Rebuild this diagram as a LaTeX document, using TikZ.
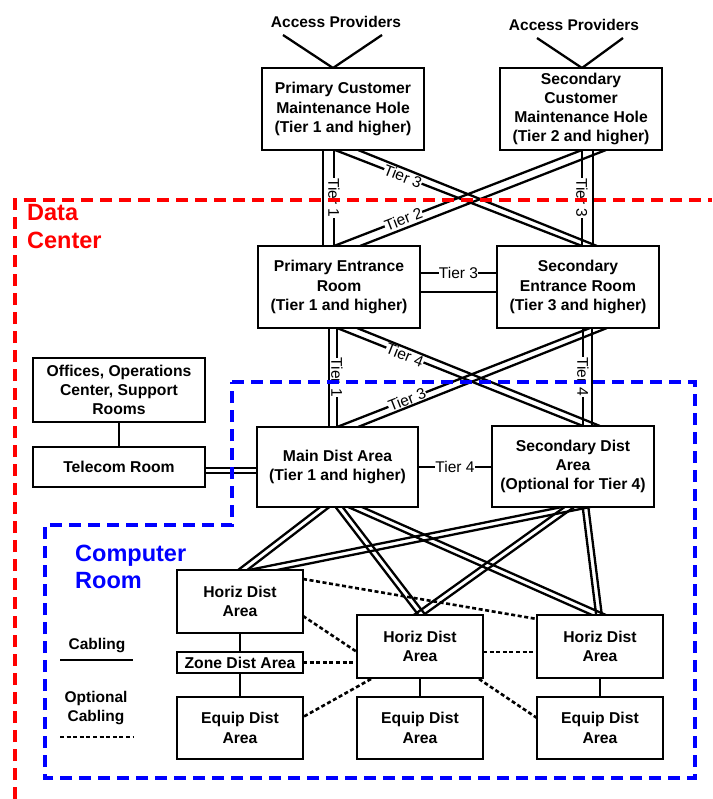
\documentclass[tikz,border=0pt]{standalone}
\usepackage{fontspec}
\setmainfont{Liberation Sans}
\usetikzlibrary{calc}
\pgfdeclarelayer{bg}
\pgfsetlayers{bg,main}
\definecolor{dcred}{RGB}{255,0,0}
\definecolor{crblue}{RGB}{0,0,255}
\newcommand\dcable[2]{%
  \draw[cable] ($(#1)!2.8pt!90:(#2)$) -- ($(#2)!2.8pt!-90:(#1)$);
  \draw[cable] ($(#1)!2.8pt!-90:(#2)$) -- ($(#2)!2.8pt!90:(#1)$);}
\begin{document}
\begin{tikzpicture}[x=1pt,y=-1pt,
  box/.style={draw, line width=2.3pt, fill=white, align=center, inner sep=0pt, outer sep=0pt,
    font=\fontsize{15.7}{19.3}\selectfont\bfseries},
  lbl/.style={inner sep=0pt, align=center, font=\fontsize{15.5}{18.5}\selectfont\bfseries},
  big/.style={inner sep=0pt, align=left, anchor=west, font=\fontsize{23.5}{27.5}\selectfont\bfseries},
  cable/.style={line width=2.3pt},
  opt/.style={line width=2.6pt, dash pattern=on 4pt off 2.6pt},
  tier/.style={fill=white, inner sep=0.4pt, font=\fontsize{15.5}{18}\selectfont},
  region/.style={line width=3.5pt, dash pattern=on 12pt off 7pt}]
\useasboundingbox (0,0) rectangle (712,799);

% boxes
\node[box, minimum width=162pt, minimum height=82pt] (pcmh) at (343,109) {Primary Customer\\Maintenance Hole\\(Tier 1 and higher)};
\node[box, minimum width=162pt, minimum height=82pt] (scmh) at (581,109) {Secondary\\Customer\\Maintenance Hole\\(Tier 2 and higher)};
\node[box, minimum width=162pt, minimum height=82pt] (per) at (339,287) {Primary Entrance\\Room\\(Tier 1 and higher)};
\node[box, minimum width=162pt, minimum height=82pt] (ser) at (578,287) {Secondary\\Entrance Room\\(Tier 3 and higher)};
\node[box, minimum width=161pt, minimum height=80pt] (mda) at (337.5,467) {Main Dist Area\\(Tier 1 and higher)};
\node[box, minimum width=162pt, minimum height=81pt] (sda) at (573,466.5) {Secondary Dist\\Area\\(Optional for Tier 4)};
\node[box, minimum width=172pt, minimum height=64pt] (off) at (119,390) {Offices, Operations\\Center, Support\\Rooms};
\node[box, minimum width=172pt, minimum height=40pt] (tel) at (119,467) {Telecom Room};
\node[box, minimum width=126pt, minimum height=63pt] (hdl) at (240,601.5) {Horiz Dist\\Area};
\node[box, minimum width=126pt, minimum height=21pt] (zda) at (240,662.5) {Zone Dist Area};
\node[box, minimum width=126pt, minimum height=62pt] (edl) at (240,728) {Equip Dist\\Area};
\node[box, minimum width=126pt, minimum height=63pt] (hdm) at (420,646.5) {Horiz Dist\\Area};
\node[box, minimum width=126pt, minimum height=62pt] (edm) at (420,728) {Equip Dist\\Area};
\node[box, minimum width=126pt, minimum height=63pt] (hdr) at (600,646.5) {Horiz Dist\\Area};
\node[box, minimum width=126pt, minimum height=62pt] (edr) at (600,728) {Equip Dist\\Area};

% labels
\node[lbl] (ap1) at (336,22) {Access Providers};
\node[lbl] (ap2) at (574,25) {Access Providers};
\node[big, text=dcred] (dc) at (27,226.5) {Data\\Center};
\node[big, text=crblue] (cr) at (75,567) {Computer\\Room};
\node[lbl] (lc) at (97,646) {Cabling};
\node[lbl] (lo) at (96,708) {Optional\\Cabling};
\coordinate (l1a) at (60,660); \coordinate (l1b) at (133,660);
\coordinate (l2a) at (60,737); \coordinate (l2b) at (134,737);

\begin{pgfonlayer}{bg}
% access providers
\draw[cable] ($(ap1)+(-53,13)$) -- ($(pcmh.north)+(-10,0)$) -- ($(ap1)+(46,13)$);
\draw[cable] ($(ap2)+(-37,13)$) -- ($(scmh.north)+(1,0)$) -- ($(ap2)+(49,13)$);
% CMH to ER
\draw[cable] ($(pcmh.south west)+(72,0)$) -- node[tier, rotate=-90] {Tier 1} ($(per.north west)+(76,0)$);
\draw[cable] ($(pcmh.south west)+(61,0)$) -- ($(per.north west)+(65,0)$);
\draw[cable] ($(scmh.south west)+(82,0)$) -- node[tier, rotate=-90] {Tier 3} ($(ser.north west)+(85,0)$);
\draw[cable] ($(scmh.south west)+(93,0)$) -- ($(ser.north west)+(96,0)$);
\draw[cable] ($(pcmh.south west)+(73,0)$) -- node[tier, sloped, pos=0.275] {Tier 3} ($(ser.north west)+(85,0)$);
\draw[cable] ($(pcmh.south west)+(96,0)$) -- ($(ser.north west)+(100,0)$);
\draw[cable] ($(per.north west)+(76,0)$) -- node[tier, sloped, pos=0.28] {Tier 2} ($(scmh.south west)+(82,0)$);
\draw[cable] ($(per.north west)+(102,0)$) -- ($(scmh.south west)+(106,0)$);
% ER to ER
\draw[cable] ($(per.north east)+(0,27)$) -- node[tier] {Tier 3} ($(ser.north west)+(0,27)$);
\draw[cable] ($(per.north east)+(0,46)$) -- ($(ser.north west)+(0,46)$);
% ER to DA
\draw[cable] ($(per.south west)+(79,0)$) -- node[tier, rotate=-90] {Tier 1} ($(mda.north west)+(80,0)$);
\draw[cable] ($(per.south west)+(71,0)$) -- ($(mda.north west)+(72,0)$);
\draw[cable] ($(ser.south west)+(86,0)$) -- node[tier, rotate=-90] {Tier 4} ($(sda.north west)+(91,0)$);
\draw[cable] ($(ser.south west)+(95,0)$) -- ($(sda.north west)+(100,0)$);
\draw[cable] ($(per.south west)+(79,0)$) -- node[tier, sloped, pos=0.276] {Tier 4} ($(sda.north west)+(91,0)$);
\draw[cable] ($(per.south west)+(99,0)$) -- ($(sda.north west)+(108,0)$);
\draw[cable] ($(mda.north west)+(80,0)$) -- node[tier, sloped, pos=0.277] {Tier 3} ($(ser.south west)+(93,0)$);
\draw[cable] ($(mda.north west)+(101,0)$) -- ($(ser.south west)+(110,0)$);
% MDA - SDA, Telecom
\draw[cable] (mda.east) -- node[tier] {Tier 4} (mda.east -| sda.west);
\draw[cable] ($(tel.east)+(0,0.7)$) -- ($(tel.east -| mda.west)+(0,0.7)$);
\draw[cable] ($(tel.east)+(0,6.3)$) -- ($(tel.east -| mda.west)+(0,6.3)$);
\draw[cable] (off.south) -- (tel.north);
% DA to HDA
\coordinate (m1) at ($(mda.south)+(-7.5,-4)$); \coordinate (m1e) at ($(hdl.north)+(-2.5,4)$);
\coordinate (m2) at ($(mda.south)+(-1.5,-4)$); \coordinate (m2e) at ($(hdm.north)+(5,4)$);
\coordinate (m3) at ($(mda.south)+(8.5,-4)$);  \coordinate (m3e) at ($(hdr.north)+(8,4)$);
\coordinate (s1) at ($(sda.south)+(23,-4)$);   \coordinate (s1e) at ($(hdl.north)+(3,4)$);
\coordinate (s2) at ($(sda.south)+(2,-4)$);    \coordinate (s2e) at ($(hdm.north)+(-7,4)$);
\coordinate (s3) at ($(sda.south)+(12,-4)$);   \coordinate (s3e) at ($(hdr.north)+(-0.5,4)$);
\dcable{m1}{m1e}
\dcable{m2}{m2e}
\dcable{m3}{m3e}
\dcable{s1}{s1e}
\dcable{s2}{s2e}
\dcable{s3}{s3e}
% verticals in computer room
\draw[cable] (hdl.south) -- (zda.north);
\draw[cable] (zda.south) -- (edl.north);
\draw[cable] (hdm.south) -- (edm.north);
\draw[cable] (hdr.south) -- (edr.north);
% optional cabling
\draw[opt] ($(hdl.north east)+(0,9)$) -- ($(hdr.north west)+(0,4)$);
\draw[opt] ($(hdl.north east)+(0,46)$) -- ($(hdm.west)+(0,5.5)$);
\draw[opt] (zda.east) -- (zda.east -| hdm.west);
\draw[opt] ($(hdm.east)+(0,5.5)$) -- ($(hdr.west)+(0,5.5)$);
\draw[opt] ($(hdm.south west)+(14,1)$) -- ($(edl.east)+(0,-11)$);
\draw[opt] ($(hdm.south east)+(-4,1)$) -- ($(edr.west)+(0,-10)$);
\end{pgfonlayer}

% legend
\draw[cable] (l1a) -- (l1b);
\draw[opt] (l2a) -- (l2b);

% regions
\draw[region, dcred] (15,799) -- (15,200) -- (712,200);
\draw[region, crblue] (232,382) -- (695,382) -- (695,778) -- (45,778) -- (45,525) -- (232,525) -- cycle;
\end{tikzpicture}
\end{document}
